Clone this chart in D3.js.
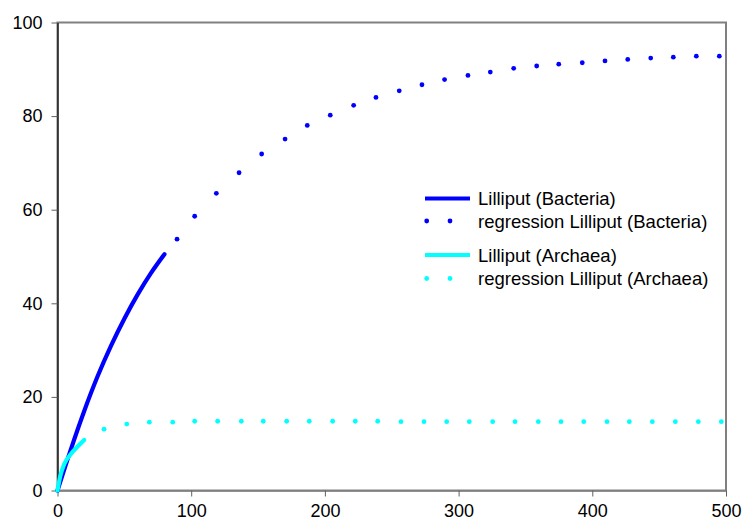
<html>
<head>
  <script src="https://d3js.org/d3.v7.min.js"></script>
  <style>
    body { margin: 0; background: white; }
    svg { display: block; font-family: "Liberation Sans", Arial, sans-serif; }
    .tickLabel { font-size: 18px; fill: black; }
    .legendText { font-size: 18.5px; fill: black; }
  </style>
</head>
<body>
  <svg id="chart" width="742" height="524"></svg>
  <script>
    const bactX = [0, 10, 20, 30, 40, 50, 60, 70, 80];
    const bactY = [0, 8.8, 17.0, 24.4, 30.9, 36.7, 41.9, 46.5, 50.5];

    const archX = [0, 2, 5, 10, 15, 20];
    const archY = [0, 3, 5.6, 7.8, 9.4, 10.8];

    const regBactX = [89.4, 102.6, 118.8, 135.8, 152.7, 170.2, 186.8, 204.0, 221.5, 238.2, 255.6, 272.6, 289.5,
      307.0, 323.7, 341.2, 358.4, 374.9, 392.5, 409.5, 426.5, 443.7, 460.6, 477.8, 495.0];
    const regBactY = [53.7, 58.6, 63.5, 67.9, 71.9, 75.1, 78.0, 80.2, 82.3, 84.0, 85.4, 86.7, 87.8,
      88.7, 89.4, 90.2, 90.7, 91.1, 91.4, 91.8, 92.1, 92.4, 92.6, 92.8, 92.8];

    const regArchX = [0, 34.8, 51.8, 68.7, 86.2, 102.6, 119.8, 137.5, 153.9, 171.4, 188.3, 205.8, 222.7, 239.5,
      256.9, 274.1, 291.1, 308.0, 325.5, 342.2, 359.6, 376.6, 393.6, 411.0, 427.7, 444.9, 462.1, 479.3, 496.5];
    const regArchY = [0, 13.1, 14.2, 14.6, 14.6, 14.8, 14.8, 14.8, 14.8, 14.8, 14.8, 14.8, 14.8, 14.8,
      14.7, 14.7, 14.7, 14.7, 14.7, 14.7, 14.7, 14.7, 14.7, 14.7, 14.7, 14.7, 14.7, 14.7, 14.7];

    const xTicks = [0, 100, 200, 300, 400, 500];
    const yTicks = [0, 20, 40, 60, 80, 100];

    const seriesNames = ["Lilliput (Bacteria)", "regression Lilliput (Bacteria)",
      "Lilliput (Archaea)", "regression Lilliput (Archaea)"];
    const blue = "#0000ff";
    const cyan = "#00ffff";

    let svg = d3.select("svg#chart");

    let xScale = d3.scaleLinear([0, 500], [57.5, 726]);
    let yScale = d3.scaleLinear([0, 100], [490.5, 22.5]);

    // plot area border (gray)
    svg.append("rect")
      .attr("x", xScale(0))
      .attr("y", yScale(100))
      .attr("width", xScale(500) - xScale(0))
      .attr("height", yScale(0) - yScale(100))
      .attr("fill", "none")
      .attr("stroke", "#808080")
      .attr("stroke-width", 2);

    // x axis
    let xAxis = d3.axisBottom(xScale).tickValues(xTicks).tickSize(6).tickSizeOuter(0).tickPadding(8);
    let xg = svg.append("g")
      .attr("transform", `translate(0, ${yScale(0)})`)
      .call(xAxis);
    xg.select(".domain").attr("stroke", "#808080").attr("stroke-width", 1.5);
    xg.selectAll(".tick line").attr("stroke", "#606060");
    xg.selectAll(".tick text").attr("class", "tickLabel");
    xg.attr("font-size", null).attr("font-family", null);

    // y axis
    let yAxis = d3.axisLeft(yScale).tickValues(yTicks).tickSize(6).tickSizeOuter(0).tickPadding(9);
    let yg = svg.append("g")
      .attr("transform", `translate(${xScale(0)}, 0)`)
      .call(yAxis);
    yg.select(".domain").attr("stroke", "black").attr("stroke-width", 1.2);
    yg.selectAll(".tick line").attr("stroke", "#606060");
    yg.selectAll(".tick text").attr("class", "tickLabel");
    yg.attr("font-size", null).attr("font-family", null);

    let line = d3.line()
      .x(d => xScale(d[0]))
      .y(d => yScale(d[1]))
      .curve(d3.curveMonotoneX);

    // archaea regression dots
    svg.append("g").selectAll("circle")
      .data(d3.zip(regArchX, regArchY))
      .join("circle")
      .attr("cx", d => xScale(d[0]))
      .attr("cy", d => yScale(d[1]))
      .attr("r", 2.4)
      .attr("fill", cyan);

    // bacteria regression dots
    svg.append("g").selectAll("circle")
      .data(d3.zip(regBactX, regBactY))
      .join("circle")
      .attr("cx", d => xScale(d[0]))
      .attr("cy", d => yScale(d[1]))
      .attr("r", 2.4)
      .attr("fill", blue);

    // bacteria measured line
    svg.append("path")
      .datum(d3.zip(bactX, bactY))
      .attr("d", line)
      .attr("fill", "none")
      .attr("stroke", blue)
      .attr("stroke-width", 4.2)
      .attr("stroke-linecap", "round");

    // archaea measured line
    svg.append("path")
      .datum(d3.zip(archX, archY))
      .attr("d", line)
      .attr("fill", "none")
      .attr("stroke", cyan)
      .attr("stroke-width", 4.2)
      .attr("stroke-linecap", "round");

    // legend
    let legendRows = [
      { name: seriesNames[0], color: blue, dotted: false, y: 198.5 },
      { name: seriesNames[1], color: blue, dotted: true, y: 221 },
      { name: seriesNames[2], color: cyan, dotted: false, y: 255 },
      { name: seriesNames[3], color: cyan, dotted: true, y: 278.5 }
    ];
    let legendG = svg.append("g");
    legendRows.forEach(row => {
      if (row.dotted) {
        [426.7, 450].forEach(cx => {
          legendG.append("circle")
            .attr("cx", cx).attr("cy", row.y).attr("r", 2.4).attr("fill", row.color);
        });
      } else {
        legendG.append("line")
          .attr("x1", 425).attr("x2", 470)
          .attr("y1", row.y).attr("y2", row.y)
          .attr("stroke", row.color).attr("stroke-width", 4);
      }
      legendG.append("text")
        .attr("class", "legendText")
        .attr("x", 478)
        .attr("y", row.y + 6.5)
        .text(row.name);
    });
  </script>
</body>
</html>
